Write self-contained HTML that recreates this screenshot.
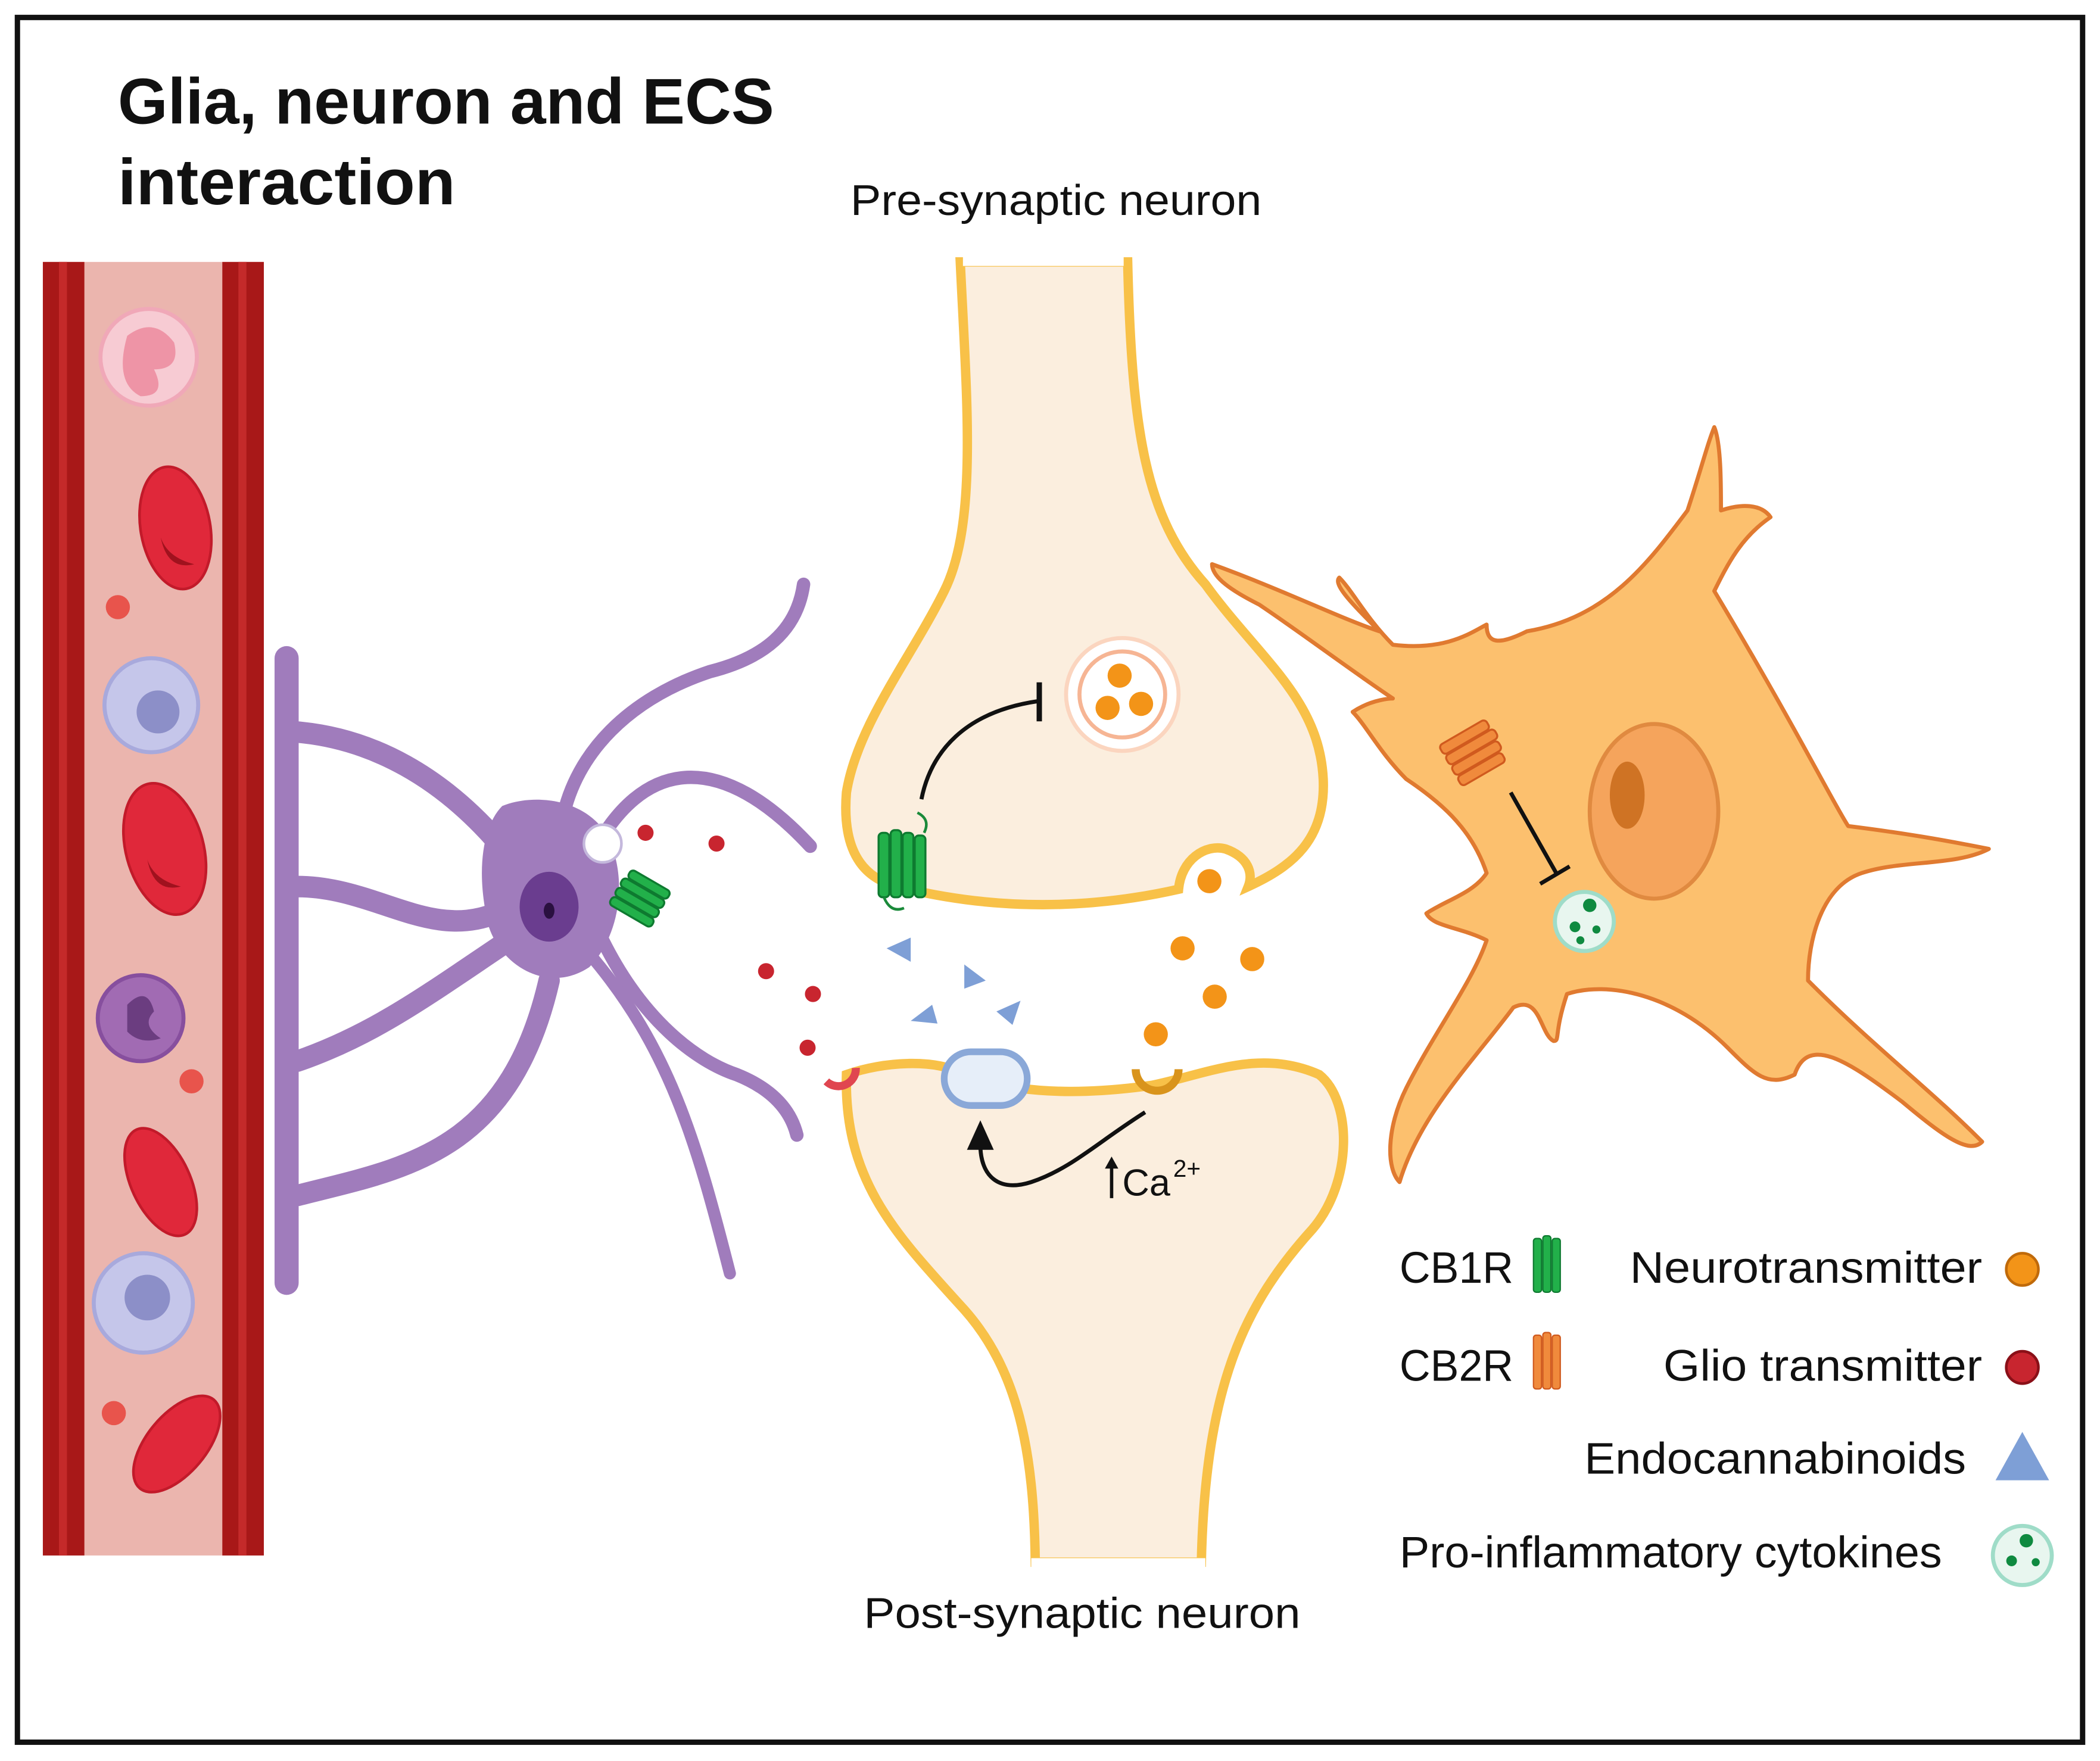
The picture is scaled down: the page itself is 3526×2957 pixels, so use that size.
<!DOCTYPE html>
<html><head><meta charset="utf-8"><style>
html,body{margin:0;padding:0;background:#fff}
svg{display:block}
text{font-family:"Liberation Sans",sans-serif}
</style></head><body>
<svg width="3526" height="2957" viewBox="0 0 1568 1311" preserveAspectRatio="none" xmlns="http://www.w3.org/2000/svg">
<rect x="0" y="0" width="1568" height="1311" fill="#fff"/>
<rect x="13" y="13" width="1542" height="1284" fill="#fff" stroke="#111" stroke-width="4"/>
<text x="88" y="92" font-size="48" font-weight="bold" fill="#111" textLength="490" lengthAdjust="spacingAndGlyphs">Glia, neuron and ECS</text>
<text x="88" y="152" font-size="48" font-weight="bold" fill="#111" textLength="252" lengthAdjust="spacingAndGlyphs">interaction</text>
<text x="635" y="160" font-size="32" fill="#111" textLength="307" lengthAdjust="spacingAndGlyphs">Pre-synaptic neuron</text>
<text x="645" y="1212" font-size="32" fill="#111" textLength="326" lengthAdjust="spacingAndGlyphs">Post-synaptic neuron</text>

<!-- blood vessel -->
<rect x="32" y="195" width="165" height="963" fill="#ebb5ae"/>
<rect x="32" y="195" width="31" height="963" fill="#a81818"/>
<rect x="166" y="195" width="31" height="963" fill="#a81818"/>
<rect x="44" y="195" width="6" height="963" fill="#c42a2a"/>
<rect x="178" y="195" width="6" height="963" fill="#c42a2a"/>
<circle cx="111" cy="266" r="36" fill="#f7cbd3" stroke="#f0a8b8" stroke-width="3"/>
<path d="M95 250 q20 -15 35 5 q5 20 -15 20 q10 20 -10 20 q-20 -10 -10 -45z" fill="#ee94a6"/>
<g fill="#e0283a" stroke="#c21a2a" stroke-width="2">
<ellipse cx="131" cy="393" rx="26" ry="46" transform="rotate(-10 131 393)"/>
<ellipse cx="123" cy="632" rx="29" ry="50" transform="rotate(-15 123 632)"/>
<ellipse cx="120" cy="880" rx="22" ry="43" transform="rotate(-25 120 880)"/>
<ellipse cx="132" cy="1075" rx="22" ry="43" transform="rotate(40 132 1075)"/>
</g>
<g fill="#a0121e"><path d="M120 400 q5 25 25 20 q-20 -5 -25 -20z"/><path d="M110 640 q5 25 25 20 q-20 -5 -25 -20z"/></g>
<g fill="#c5c6ea" stroke="#a8a9dc" stroke-width="3">
<circle cx="113" cy="525" r="35"/><circle cx="107" cy="970" r="37"/></g>
<circle cx="118" cy="530" r="16" fill="#8c8fc8"/><circle cx="110" cy="966" r="17" fill="#8c8fc8"/>
<circle cx="105" cy="758" r="32" fill="#a16bb3" stroke="#874f9e" stroke-width="3"/>
<path d="M95 748 q15 -15 20 5 q-10 10 5 20 q-15 5 -25 -5z" fill="#6b3d80"/>
<g fill="#e8544c"><circle cx="88" cy="452" r="9"/><circle cx="143" cy="805" r="9"/><circle cx="85" cy="1052" r="9"/></g>

<!-- pre-synaptic -->
<path d="M717 195 C722 300 730 390 705 440 C680 490 640 540 632 590 C628 640 650 655 670 660 C730 675 800 680 880 662 C882 640 900 628 915 632 C932 638 936 650 932 660 C965 645 990 625 988 580 C985 520 940 490 900 435 C855 385 845 320 842 195Z" fill="#fbeede" stroke="#f8c148" stroke-width="7"/>
<rect x="719" y="190" width="120" height="8" fill="#fff"/>
<!-- post-synaptic -->
<path d="M632 800 C660 790 700 788 720 800 C760 815 810 815 860 808 C900 800 940 780 985 800 C1010 820 1010 880 980 915 C930 970 900 1030 897 1163 L773 1163 C772 1080 760 1020 720 975 C670 920 630 880 632 800Z" fill="#fbeede" stroke="#f8c148" stroke-width="7"/>
<rect x="770" y="1160" width="130" height="8" fill="#fff"/>

<!-- vesicle -->
<circle cx="838" cy="517" r="42" fill="#fff" stroke="#fbd5bf" stroke-width="3"/>
<circle cx="838" cy="517" r="32" fill="#fff" stroke="#f6b594" stroke-width="3"/>
<g fill="#f39418"><circle cx="836" cy="503" r="9"/><circle cx="827" cy="527" r="9"/><circle cx="852" cy="524" r="9"/></g>
<path d="M688 595 C695 560 720 530 775 522" fill="none" stroke="#111" stroke-width="3"/>
<line x1="776" y1="508" x2="776" y2="537" stroke="#111" stroke-width="4"/>

<!-- CB1R pre -->
<g fill="#22b04a" stroke="#0e7a30" stroke-width="1.5">
<rect x="656" y="620" width="8" height="48" rx="3"/><rect x="665" y="618" width="8" height="50" rx="3"/><rect x="674" y="620" width="8" height="48" rx="3"/><rect x="683" y="622" width="8" height="46" rx="3"/></g>
<path d="M660 668 q5 12 15 8 M690 620 q5 -10 -5 -15" stroke="#1a8a3a" stroke-width="2" fill="none"/>

<!-- neurotransmitters -->
<g fill="#f39418"><circle cx="903" cy="656" r="9"/><circle cx="883" cy="706" r="9"/><circle cx="935" cy="714" r="9"/><circle cx="907" cy="742" r="9"/><circle cx="863" cy="770" r="9"/></g>
<path d="M848 796 a16 16 0 0 0 32 0" fill="none" stroke="#d9941c" stroke-width="6"/>
<!-- endocannabinoids -->
<g fill="#7e9fd6"><path d="M662 706 l18 -8 l0 18z"/><path d="M720 718 l16 12 l-16 6z"/><path d="M680 760 l16 -12 l4 14z"/><path d="M744 753 l18 -8 l-6 18z"/></g>
<!-- channel -->
<rect x="705" y="783" width="62" height="40" rx="20" fill="#e6eef9" stroke="#8aa8d8" stroke-width="5"/>
<path d="M855 828 C820 850 800 870 770 880 C745 888 732 875 732 852" fill="none" stroke="#111" stroke-width="3"/>
<path d="M722 856 l10 -22 l10 22z" fill="#111"/>
<line x1="830" y1="892" x2="830" y2="866" stroke="#111" stroke-width="2.5"/><path d="M825 870 l5 -9 l5 9z" fill="#111"/>
<text x="838" y="890" font-size="28" fill="#111">Ca</text><text x="876" y="876" font-size="18" fill="#111">2+</text>

<!-- glio transmitters -->
<g fill="#c8252f"><circle cx="453" cy="626" r="6"/><circle cx="482" cy="620" r="6"/><circle cx="535" cy="628" r="6"/><circle cx="572" cy="723" r="6"/><circle cx="607" cy="740" r="6"/><circle cx="603" cy="780" r="6"/></g>
<path d="M617 805 a13 13 0 0 0 22 -10" fill="none" stroke="#e04650" stroke-width="6"/>

<!-- astrocyte -->
<g fill="none" stroke="#a07cbc" stroke-linecap="round" stroke-linejoin="round">
<line x1="214" y1="490" x2="214" y2="955" stroke-width="18"/>
<path d="M222 545 C280 550 330 580 370 625" stroke-width="16"/>
<path d="M222 660 C280 660 320 700 370 680" stroke-width="16"/>
<path d="M222 790 C280 770 320 740 380 700" stroke-width="16"/>
<path d="M222 890 C300 870 380 860 410 730" stroke-width="16"/>
<path d="M420 610 C430 560 470 520 530 500 C570 490 595 470 600 435" stroke-width="10"/>
<path d="M440 640 C480 560 540 560 605 630" stroke-width="10"/>
<path d="M450 700 C480 760 520 790 550 800 C575 810 590 825 595 845" stroke-width="10"/>
<path d="M440 710 C500 780 520 850 545 948" stroke-width="9"/>
</g>
<path d="M375 600 C400 590 440 595 455 625 C470 660 460 700 440 720 C410 740 375 720 365 690 C355 650 360 615 375 600Z" fill="#a07cbc"/>
<ellipse cx="410" cy="675" rx="22" ry="26" fill="#6a3d8f"/>
<ellipse cx="410" cy="678" rx="4" ry="6" fill="#2a1040"/>
<circle cx="450" cy="628" r="14" fill="#fff" stroke="#c4b8dc" stroke-width="2"/>
<g fill="#22b04a" stroke="#0e7a30" stroke-width="1.5" transform="rotate(-60 478 668)">
<rect x="462" y="650" width="7" height="36" rx="3"/><rect x="470" y="650" width="7" height="36" rx="3"/><rect x="478" y="650" width="7" height="36" rx="3"/><rect x="486" y="652" width="7" height="34" rx="3"/></g>

<!-- microglia -->
<path d="M905 420 C960 440 1000 460 1030 470 C1010 450 995 435 1000 430 C1010 440 1020 460 1040 480 C1080 485 1100 470 1110 465 C1110 480 1120 480 1140 470 C1200 460 1230 420 1260 380 C1270 350 1275 330 1280 318 C1285 330 1285 360 1285 380 C1300 375 1315 375 1322 385 C1300 400 1290 420 1280 440 C1340 540 1370 600 1380 615 C1420 620 1450 625 1485 632 C1460 645 1420 640 1390 650 C1360 660 1350 700 1350 730 C1400 780 1440 810 1480 850 C1470 860 1450 845 1420 820 C1380 790 1350 770 1340 800 C1320 810 1310 800 1290 780 C1250 740 1200 730 1170 740 C1160 770 1165 775 1160 775 C1150 770 1150 740 1130 750 C1100 790 1060 830 1045 880 C1035 870 1035 840 1050 810 C1070 770 1100 730 1110 700 C1090 690 1070 690 1065 680 C1080 670 1100 665 1110 650 C1100 620 1080 600 1050 580 C1030 560 1020 540 1010 530 C1025 520 1040 520 1040 520 C1010 500 970 470 940 450 C920 440 905 430 905 420Z" fill="#fcc06e" stroke="#e07a30" stroke-width="3" stroke-linejoin="round"/>
<ellipse cx="1235" cy="604" rx="48" ry="65" fill="#f5a45c" stroke="#e08a40" stroke-width="3"/>
<ellipse cx="1215" cy="592" rx="13" ry="25" fill="#cf7324"/>
<line x1="1128" y1="590" x2="1162" y2="650" stroke="#111" stroke-width="3"/>
<line x1="1150" y1="658" x2="1172" y2="645" stroke="#111" stroke-width="3"/>
<circle cx="1183" cy="686" r="22" fill="#e8f6ef" stroke="#9fdcc8" stroke-width="3"/>
<g fill="#0f8a40"><circle cx="1187" cy="674" r="5"/><circle cx="1176" cy="690" r="4"/><circle cx="1192" cy="692" r="3"/><circle cx="1180" cy="700" r="3"/></g>
<g fill="#f08a3c" stroke="#d05a1e" stroke-width="1.5" transform="rotate(60 1100 560)">
<rect x="1083" y="540" width="8" height="40" rx="3"/><rect x="1092" y="538" width="8" height="42" rx="3"/><rect x="1101" y="540" width="8" height="40" rx="3"/><rect x="1110" y="542" width="8" height="38" rx="3"/></g>

<!-- legend -->
<g font-size="33" fill="#111" lengthAdjust="spacingAndGlyphs">
<text x="1045" y="955" textLength="85" lengthAdjust="spacingAndGlyphs">CB1R</text>
<text x="1045" y="1028" textLength="85" lengthAdjust="spacingAndGlyphs">CB2R</text>
<text x="1217" y="955" textLength="263" lengthAdjust="spacingAndGlyphs">Neurotransmitter</text>
<text x="1242" y="1028" textLength="238" lengthAdjust="spacingAndGlyphs">Glio transmitter</text>
<text x="1183" y="1097" textLength="285" lengthAdjust="spacingAndGlyphs">Endocannabinoids</text>
<text x="1045" y="1167" textLength="405" lengthAdjust="spacingAndGlyphs">Pro-inflammatory cytokines</text>
</g>
<g fill="#22b04a" stroke="#0e7a30" stroke-width="1"><rect x="1145" y="922" width="6" height="40" rx="2"/><rect x="1152" y="920" width="6" height="42" rx="2"/><rect x="1159" y="922" width="6" height="40" rx="2"/></g>
<g fill="#f08a3c" stroke="#d05a1e" stroke-width="1"><rect x="1145" y="994" width="6" height="40" rx="2"/><rect x="1152" y="992" width="6" height="42" rx="2"/><rect x="1159" y="994" width="6" height="40" rx="2"/></g>
<circle cx="1510" cy="945" r="12" fill="#f39418" stroke="#c06a0a" stroke-width="2"/>
<circle cx="1510" cy="1018" r="12" fill="#c8252f" stroke="#8a1018" stroke-width="2"/>
<path d="M1510 1066 l20 36 h-40z" fill="#7e9fd6"/>
<circle cx="1510" cy="1158" r="22" fill="#e8f6ef" stroke="#9fdcc8" stroke-width="3"/>
<g fill="#0f8a40"><circle cx="1513" cy="1147" r="5"/><circle cx="1502" cy="1162" r="4"/><circle cx="1520" cy="1163" r="3"/></g>
</svg>
</body></html>
